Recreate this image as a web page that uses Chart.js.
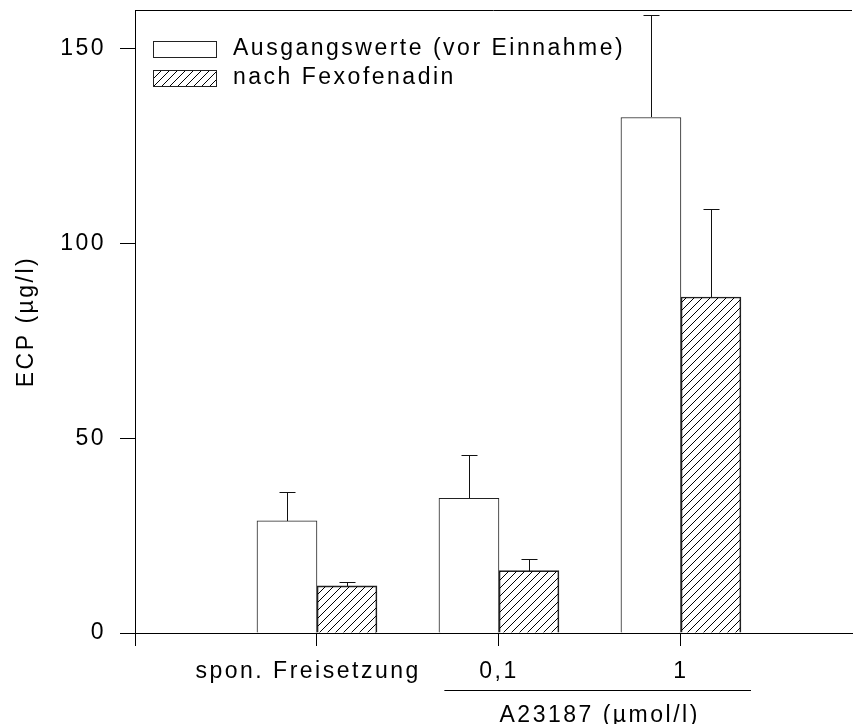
<!DOCTYPE html>
<html>
<head>
<meta charset="UTF-8">
<title>ECP</title>
<script src="https://cdn.jsdelivr.net/npm/chart.js@4.4.0/dist/chart.umd.min.js"></script>
<style>
    body { margin: 0; background: #fff; }
</style>
</head>
<body>
<canvas id="ecpChart" width="855" height="724"></canvas>
<script>
// Werte
const groupLabels = ['', 'spon. Freisetzung  ', '0,1', '1'];
const groupPositions = [1, 2, 3];
const baseValues = [28.8, 34.6, 132.4];
const baseErrors = [7.4, 11.1, 26.3];
const fexoValues = [12.1, 16.0, 86.3];
const fexoErrors = [1.0, 3.0, 22.7];
const seriesLabels = ['Ausgangswerte (vor Einnahme)', 'nach Fexofenadin'];
const yTicks = [0, 50, 100, 150];
const xTicks = [0, 1, 2, 3];
const spanLabel = 'A23187 (µmol/l)';
const spanRange = [1.7, 3.385];

const FONT = "'Liberation Sans', Arial, sans-serif";
const SPACING = '2.5px';

const canvas = document.getElementById('ecpChart');
const ctx = canvas.getContext('2d');

// Schraffur fuer die zweite Reihe
function makeHatch() {
    const c = document.createElement('canvas');
    c.width = 8; c.height = 8;
    const g = c.getContext('2d');
    g.strokeStyle = '#000';
    g.lineWidth = 1;
    g.beginPath();
    g.moveTo(0, 8); g.lineTo(8, 0);
    g.moveTo(-2, 2); g.lineTo(2, -2);
    g.moveTo(6, 10); g.lineTo(10, 6);
    g.stroke();
    return ctx.createPattern(c, 'repeat');
}

function toPoints(values) {
    return groupPositions.map((x, i) => ({ x: x, y: values[i] }));
}

const spacingPlugin = {
    id: 'spacing',
    beforeUpdate(chart) { chart.ctx.letterSpacing = SPACING; },
    beforeDraw(chart) { chart.ctx.letterSpacing = SPACING; }
};

const errorBars = {
    id: 'errorBars',
    afterDatasetsDraw(chart) {
        const c = chart.ctx, y = chart.scales.y;
        c.save();
        c.strokeStyle = '#111';
        c.lineWidth = 1;
        chart.data.datasets.forEach((ds, i) => {
            chart.getDatasetMeta(i).data.forEach((bar, j) => {
                const x = Math.round(bar.x) + 0.5;
                const top = Math.round(y.getPixelForValue(ds.data[j].y + ds.errors[j])) + 0.5;
                c.beginPath();
                c.moveTo(x, Math.round(bar.y));
                c.lineTo(x, top);
                c.moveTo(x - 8, top);
                c.lineTo(x + 8, top);
                c.stroke();
            });
        });
        c.restore();
    }
};

const decor = {
    id: 'decor',
    afterDraw(chart) {
        const c = chart.ctx, a = chart.chartArea, xs = chart.scales.x;
        c.save();
        c.letterSpacing = SPACING;
        c.strokeStyle = '#000';
        c.lineWidth = 1;
        // obere Rahmenlinie
        c.beginPath();
        c.moveTo(a.left, a.top + 0.5);
        c.lineTo(a.right, a.top + 0.5);
        c.stroke();

        // Legende
        c.font = '23px ' + FONT;
        c.fillStyle = '#000';
        c.textBaseline = 'middle';
        c.textAlign = 'left';
        const rows = [41, 70];
        chart.data.datasets.forEach((ds, i) => {
            const bx = a.left + 18, by = rows[i];
            c.fillStyle = ds.backgroundColor;
            c.fillRect(bx, by, 64, 16);
            c.strokeStyle = '#222';
            c.strokeRect(bx + 0.5, by + 0.5, 63, 16);
            c.fillStyle = '#000';
            c.fillText(ds.label, a.left + 98, by + 8);
        });

        // Klammer A23187
        const x0 = xs.getPixelForValue(spanRange[0]);
        const x1 = xs.getPixelForValue(spanRange[1]);
        const ly = a.bottom + 57.5;
        c.strokeStyle = '#000';
        c.beginPath();
        c.moveTo(x0, ly);
        c.lineTo(x1, ly);
        c.stroke();
        c.textAlign = 'center';
        c.textBaseline = 'alphabetic';
        c.fillText(spanLabel, (x0 + x1) / 2 + 2, ly + 31);
        c.restore();
    }
};

Chart.defaults.font.family = FONT;
Chart.defaults.font.size = 23;
Chart.defaults.color = '#000';

new Chart(ctx, {
    type: 'bar',
    data: {
        datasets: [{
            label: seriesLabels[0],
            data: toPoints(baseValues),
            errors: baseErrors,
            backgroundColor: '#fff',
            borderColor: '#222',
            borderWidth: 1,
            barThickness: 60
        }, {
            label: seriesLabels[1],
            data: toPoints(fexoValues),
            errors: fexoErrors,
            backgroundColor: makeHatch(),
            borderColor: '#222',
            borderWidth: 1,
            barThickness: 60
        }]
    },
    options: {
        responsive: false,
        animation: false,
        layout: { padding: { top: 10, right: 3, left: 0, bottom: 0 } },
        plugins: {
            legend: { display: false },
            tooltip: { enabled: false }
        },
        scales: {
            x: {
                type: 'linear',
                min: 0,
                max: 3.94,
                offset: false,
                afterBuildTicks: (s) => { s.ticks = xTicks.map(v => ({ value: v })); },
                afterFit: (s) => { s.height = 91; },
                ticks: {
                    autoSkip: false,
                    maxRotation: 0,
                    minRotation: 0,
                    padding: 12,
                    callback: (v) => groupLabels[v] ?? ''
                },
                grid: {
                    offset: false,
                    drawOnChartArea: false,
                    tickLength: 13,
                    tickColor: '#000'
                },
                border: { display: true, color: '#000', width: 1 }
            },
            y: {
                min: 0,
                max: 160,
                afterBuildTicks: (s) => { s.ticks = yTicks.map(v => ({ value: v })); },
                afterFit: (s) => {
                    s.width = 135;
                    s.paddingTop = 0;
                    s.paddingBottom = 0;
                },
                ticks: { padding: 14 },
                grid: {
                    drawOnChartArea: false,
                    tickLength: 15,
                    tickColor: '#000'
                },
                border: { display: true, color: '#000', width: 1 },
                title: {
                    display: true,
                    text: 'ECP (µg/l)',
                    padding: { top: 13, bottom: 0 }
                }
            }
        }
    },
    plugins: [spacingPlugin, errorBars, decor]
});
</script>
</body>
</html>
